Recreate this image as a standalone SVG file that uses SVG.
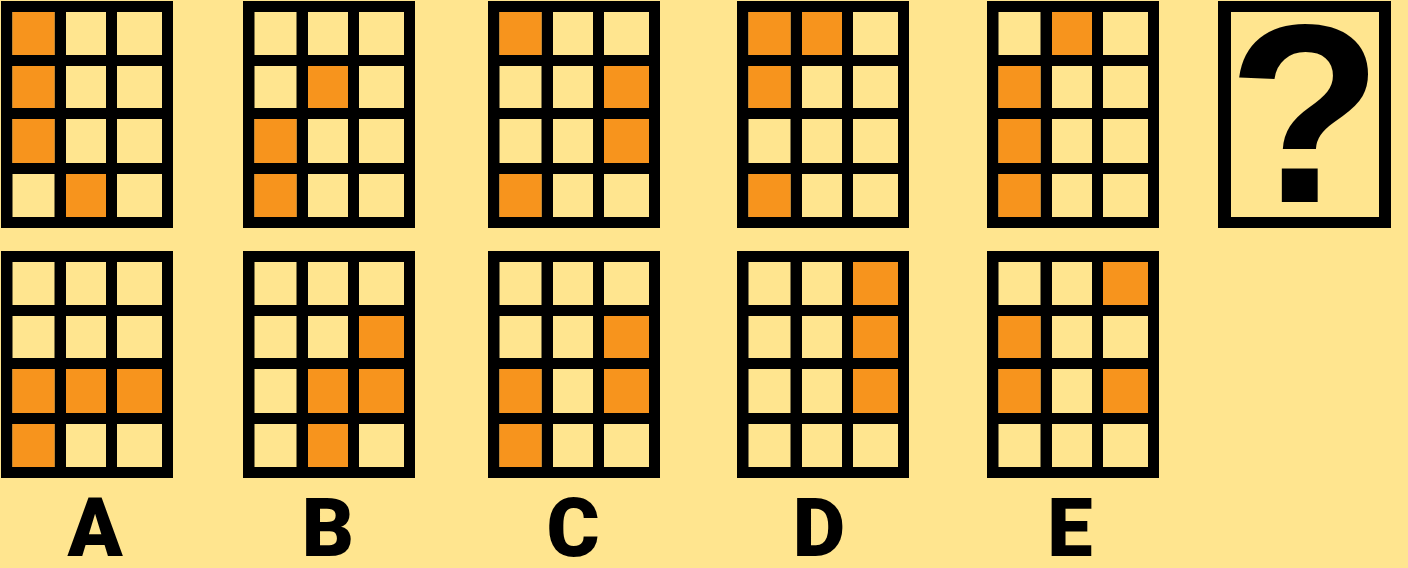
<svg xmlns="http://www.w3.org/2000/svg" width="1408" height="568" viewBox="0 0 1408 568">
<defs>
<style>
.bg{fill:#FFE58F}
.frame{fill:#000}
.c{fill:#FFE58F}
.o{fill:#F7941D}
.lbl{font-family:Roboto,"Liberation Sans",Arial,sans-serif;font-weight:900;font-size:81px;fill:#000;text-anchor:middle}
.q{font-family:"Liberation Sans",Arial,sans-serif;font-weight:bold;font-size:254px;fill:#000;text-anchor:middle}
</style>
<g id="cells">
<rect class="frame" x="0" y="0" width="172" height="227"/>
<rect class="c" x="11.5" y="11" width="42" height="43"/><rect class="c" x="65" y="11" width="40" height="43"/><rect class="c" x="116" y="11" width="45" height="43"/>
<rect class="c" x="11.5" y="65" width="42" height="42"/><rect class="c" x="65" y="65" width="40" height="42"/><rect class="c" x="116" y="65" width="45" height="42"/>
<rect class="c" x="11.5" y="118" width="42" height="44"/><rect class="c" x="65" y="118" width="40" height="44"/><rect class="c" x="116" y="118" width="45" height="44"/>
<rect class="c" x="11.5" y="173" width="42" height="43"/><rect class="c" x="65" y="173" width="40" height="43"/><rect class="c" x="116" y="173" width="45" height="43"/>
</g>
<rect id="o00" class="o" x="11.5" y="11" width="42" height="43"/>
<rect id="o01" class="o" x="65" y="11" width="40" height="43"/>
<rect id="o02" class="o" x="116" y="11" width="45" height="43"/>
<rect id="o10" class="o" x="11.5" y="65" width="42" height="42"/>
<rect id="o11" class="o" x="65" y="65" width="40" height="42"/>
<rect id="o12" class="o" x="116" y="65" width="45" height="42"/>
<rect id="o20" class="o" x="11.5" y="118" width="42" height="44"/>
<rect id="o21" class="o" x="65" y="118" width="40" height="44"/>
<rect id="o22" class="o" x="116" y="118" width="45" height="44"/>
<rect id="o30" class="o" x="11.5" y="173" width="42" height="43"/>
<rect id="o31" class="o" x="65" y="173" width="40" height="43"/>
<rect id="o32" class="o" x="116" y="173" width="45" height="43"/>
</defs>
<rect class="bg" x="0" y="0" width="1408" height="568"/>

<g id="gridA-top" transform="translate(1,1)">
<use href="#cells"/><use href="#o00"/><use href="#o10"/><use href="#o20"/><use href="#o31"/>
</g>
<g id="gridB-top" transform="translate(243,1)">
<use href="#cells"/><use href="#o11"/><use href="#o20"/><use href="#o30"/>
</g>
<g id="gridC-top" transform="translate(488,1)">
<use href="#cells"/><use href="#o00"/><use href="#o12"/><use href="#o22"/><use href="#o30"/>
</g>
<g id="gridD-top" transform="translate(737,1)">
<use href="#cells"/><use href="#o00"/><use href="#o01"/><use href="#o10"/><use href="#o30"/>
</g>
<g id="gridE-top" transform="translate(987,1)">
<use href="#cells"/><use href="#o01"/><use href="#o10"/><use href="#o20"/><use href="#o30"/>
</g>

<g id="question">
<rect class="frame" x="1218" y="1" width="173" height="227"/>
<rect class="c" x="1231" y="12" width="148" height="205"/>
<text class="q" x="1305" y="202">?</text>
</g>

<g id="gridA-bottom" transform="translate(1,251)">
<use href="#cells"/><use href="#o20"/><use href="#o21"/><use href="#o22"/><use href="#o30"/>
</g>
<g id="gridB-bottom" transform="translate(243,251)">
<use href="#cells"/><use href="#o12"/><use href="#o21"/><use href="#o22"/><use href="#o31"/>
</g>
<g id="gridC-bottom" transform="translate(488,251)">
<use href="#cells"/><use href="#o12"/><use href="#o20"/><use href="#o22"/><use href="#o30"/>
</g>
<g id="gridD-bottom" transform="translate(737,251)">
<use href="#cells"/><use href="#o02"/><use href="#o12"/><use href="#o22"/>
</g>
<g id="gridE-bottom" transform="translate(987,251)">
<use href="#cells"/><use href="#o02"/><use href="#o10"/><use href="#o20"/><use href="#o22"/>
</g>

<g id="labels">
<text class="lbl" x="95" y="556">A</text>
<text class="lbl" x="328" y="556">B</text>
<text class="lbl" x="573" y="556">C</text>
<text class="lbl" x="819" y="556">D</text>
<text class="lbl" x="1070" y="556">E</text>
</g>
</svg>
